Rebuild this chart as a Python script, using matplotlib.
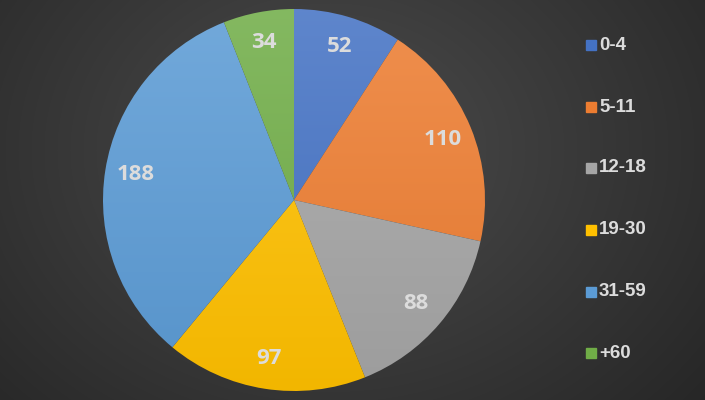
import numpy as np
import matplotlib
matplotlib.use("Agg")
import matplotlib.pyplot as plt
from matplotlib.colors import to_rgb

categories = ["0-4", "5-11", "12-18", "19-30", "31-59", "+60"]
values = [52, 110, 88, 97, 188, 34]
colors = ["#4472C4", "#ED7D31", "#A5A5A5", "#FFC000", "#5B9BD5", "#70AD47"]

W, H = 705, 400
fig = plt.figure(figsize=(W / 100, H / 100), dpi=100)

# background radial gradient
bg = fig.add_axes([0, 0, 1, 1])
bg.set_axis_off()
yy, xx = np.mgrid[0:H, 0:W]
d = np.sqrt(((xx - 330) / 520.0) ** 2 + ((yy - 150) / 420.0) ** 2)
d = np.clip(d, 0, 1)
c0 = np.array([0x4c, 0x4c, 0x4c]) / 255
c1 = np.array([0x24, 0x24, 0x24]) / 255
img = c0[None, None, :] * (1 - d[..., None]) + c1[None, None, :] * d[..., None]
bg.imshow(img, extent=(0, W, H, 0), aspect="auto")
bg.set_xlim(0, W)
bg.set_ylim(H, 0)

cx, cy, r = 294, 200, 191
ax = fig.add_axes([(cx - r) / W, (H - cy - r) / H, 2 * r / W, 2 * r / H])
ax.set_axis_off()
wedges, texts = ax.pie(values, colors=colors, startangle=90, counterclock=False,
                       radius=1, labels=[str(v) for v in values], labeldistance=0.84,
                       wedgeprops=dict(linewidth=0))
ax.set_xlim(-1, 1)
ax.set_ylim(-1, 1)
ax.set_aspect("equal")

t = np.linspace(0, 1, 256)[:, None]
for w, col in zip(wedges, colors):
    base = np.array(to_rgb(col))
    top = base + (1 - base) * 0.14
    bot = base * 0.95
    grad = top[None, None, :] * (1 - t[..., None]) + bot[None, None, :] * t[..., None]
    grad = np.repeat(grad, 4, axis=1)
    w.set_facecolor("none")
    im = ax.imshow(grad, extent=(-1, 1, -1, 1), aspect="auto", zorder=w.get_zorder())
    im.set_clip_path(w)

for tx in texts:
    tx.set_color("#dcdcdc")
    tx.set_fontsize(16)
    tx.set_fontweight("bold")
    tx.set_family("Open Sans")
    tx.set_ha("center")
    tx.set_va("center")
    tx.set_zorder(10)

# legend
ys = [45, 107, 168, 230, 292, 353]
for cat, col, y in zip(categories, colors, ys):
    bg.add_patch(plt.Rectangle((586, y - 5), 10, 10, color=col, zorder=5))
    bg.text(599, y, cat, color="#dcdcdc", fontsize=13.5, fontweight="bold",
            family="Liberation Sans", ha="left", va="center", zorder=5)

fig.savefig("out.png", dpi=100)
